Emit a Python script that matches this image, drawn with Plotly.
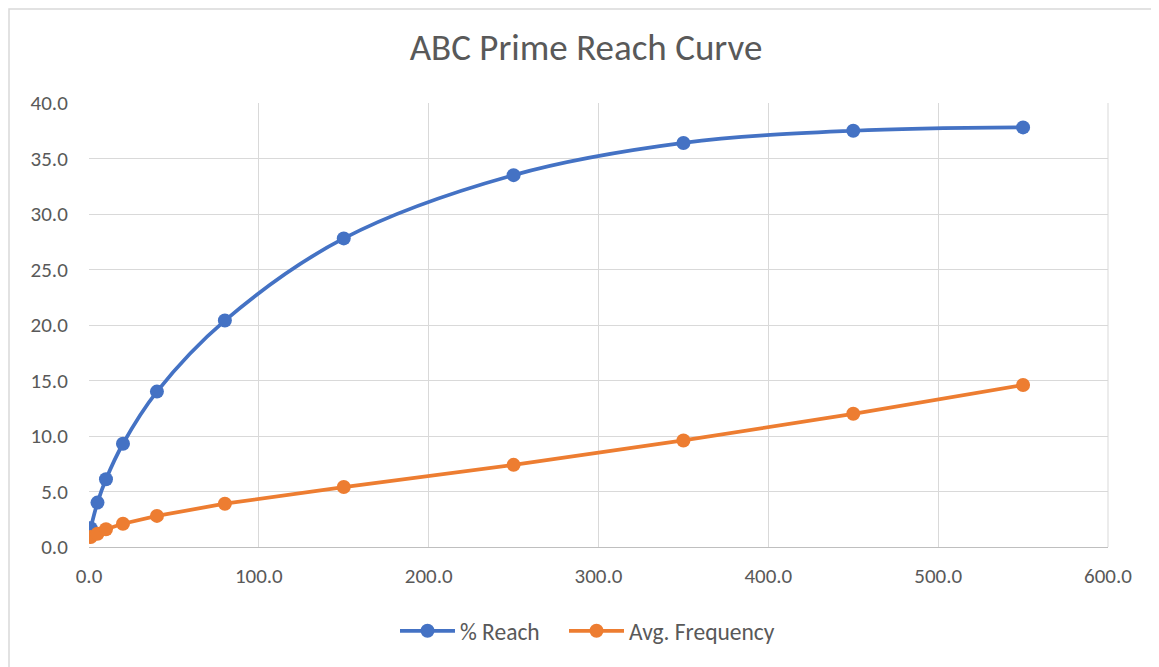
import plotly.graph_objects as go

# Data
grps = [1, 5, 10, 20, 40, 80, 150, 250, 350, 450, 550]
reach_pct = [1.7, 4.0, 6.1, 9.3, 14.0, 20.4, 27.8, 33.5, 36.4, 37.5, 37.8]
avg_freq = [0.9, 1.2, 1.6, 2.1, 2.8, 3.9, 5.4, 7.4, 9.6, 12.0, 14.6]

series_names = ["% Reach", "Avg. Frequency"]
colors = ["#4472C4", "#ED7D31"]
title_text = "ABC Prime Reach Curve"

FONT = "Carlito, Calibri, Lato, 'Open Sans', sans-serif"
TXT = "#595959"
OFF = 8  # page body margin

# plot area in page pixels
PX0, PX1, PY0, PY1 = 89, 1108, 103, 547
W, H = 1159, 667

def px(x):
    return (x - PX0) / (PX1 - PX0)

def py(y):
    return (PY1 - y) / (PY1 - PY0)

fig = go.Figure()
fig.add_trace(go.Scatter(
    x=grps, y=reach_pct, name=series_names[0], mode="lines+markers",
    line=dict(color=colors[0], width=3.75, shape="spline", smoothing=1.0),
    marker=dict(color=colors[0], size=14), legend="legend",
))
fig.add_trace(go.Scatter(
    x=grps, y=avg_freq, name=series_names[1], mode="lines+markers",
    line=dict(color=colors[1], width=3.75),
    marker=dict(color=colors[1], size=14), legend="legend2",
))

leg_common = dict(orientation="h", xanchor="left", y=py(631), yanchor="middle",
                  font=dict(family=FONT, size=23.5, color=TXT), itemwidth=55,
                  bgcolor="rgba(0,0,0,0)")

fig.update_layout(
    width=W, height=H,
    paper_bgcolor="white", plot_bgcolor="white",
    margin=dict(l=PX0 - OFF, r=W - (PX1 - OFF), t=PY0 - OFF, b=H - (PY1 - OFF)),
    font=dict(family=FONT, color=TXT, size=21),
    title=dict(text=title_text, x=px(586), xref="paper", xanchor="center",
               y=(H - (47 - OFF)) / H, yanchor="middle",
               font=dict(family=FONT, size=37, color=TXT)),
    showlegend=True,
    legend=dict(x=px(395), **leg_common),
    legend2=dict(x=px(564), **leg_common),
    xaxis=dict(range=[0, 600], dtick=100, tick0=0, tickformat=".1f",
               showgrid=True, gridcolor="#D9D9D9", gridwidth=1,
               showline=True, linecolor="#BFBFBF", linewidth=1, mirror=False,
               zeroline=False, ticks="outside", ticklen=10, tickcolor="rgba(0,0,0,0)",
               tickfont=dict(family=FONT, size=21, color=TXT), fixedrange=True),
    yaxis=dict(range=[0, 40], dtick=5, tick0=0, tickformat=".1f",
               showgrid=True, gridcolor="#D9D9D9", gridwidth=1,
               showline=False, zeroline=False,
               ticks="outside", ticklen=16, tickcolor="rgba(0,0,0,0)",
               tickfont=dict(family=FONT, size=21, color=TXT), fixedrange=True),
    shapes=[
        dict(type="rect", xref="paper", yref="paper",
             x0=px(9), x1=px(1185), y0=py(700), y1=py(9),
             line=dict(color="#D9D9D9", width=1.5), layer="below"),
        dict(type="line", xref="paper", yref="paper", x0=1, x1=1, y0=0, y1=1,
             line=dict(color="#D9D9D9", width=1)),
    ],
)

fig.write_html("out.html")
